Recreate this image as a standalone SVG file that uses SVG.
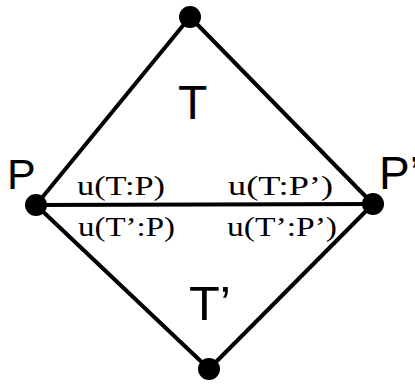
<svg xmlns="http://www.w3.org/2000/svg" width="415" height="385" viewBox="0 0 415 385">
<style>
.edge{stroke:#000;stroke-width:4;fill:none;stroke-linecap:round}
.dot{fill:#000}
.big{font-family:"Liberation Sans",Arial,sans-serif;fill:#000}
.lab{font-family:"Liberation Serif","Times New Roman",serif;font-size:28px;fill:#000}
</style>
<rect width="415" height="385" fill="#fff"/>
<g id="connectors">
<line class="edge" x1="190" y1="17" x2="36" y2="205"/>
<line class="edge" x1="190" y1="17" x2="373" y2="204"/>
<line class="edge" x1="36" y1="205" x2="373" y2="204"/>
<line class="edge" x1="36" y1="205" x2="209" y2="369"/>
<line class="edge" x1="373" y1="204" x2="209" y2="369"/>
</g>
<g id="top"><circle class="dot" cx="190" cy="17" r="11"/></g>
<g id="P"><circle class="dot" cx="36" cy="205" r="11"/><text class="big" x="7" y="189" font-size="43">P</text></g>
<g id="P2"><circle class="dot" cx="373" cy="204" r="11"/><text class="big" x="379" y="189" font-size="46">P’</text></g>
<g id="bottom"><circle class="dot" cx="209" cy="369" r="11"/></g>
<g id="T"><text class="big" x="178" y="119" font-size="48">T</text></g>
<g id="T2"><text class="big" x="189" y="320" font-size="48" textLength="42" lengthAdjust="spacingAndGlyphs">T’</text></g>
<g id="labels">
<text class="lab" x="77" y="195" textLength="88" lengthAdjust="spacingAndGlyphs">u(T:P)</text>
<text class="lab" x="228" y="195" textLength="105" lengthAdjust="spacingAndGlyphs">u(T:P’)</text>
<text class="lab" x="78" y="236" textLength="97" lengthAdjust="spacingAndGlyphs">u(T’:P)</text>
<text class="lab" x="227" y="236" textLength="110" lengthAdjust="spacingAndGlyphs">u(T’:P’)</text>
</g>
</svg>
